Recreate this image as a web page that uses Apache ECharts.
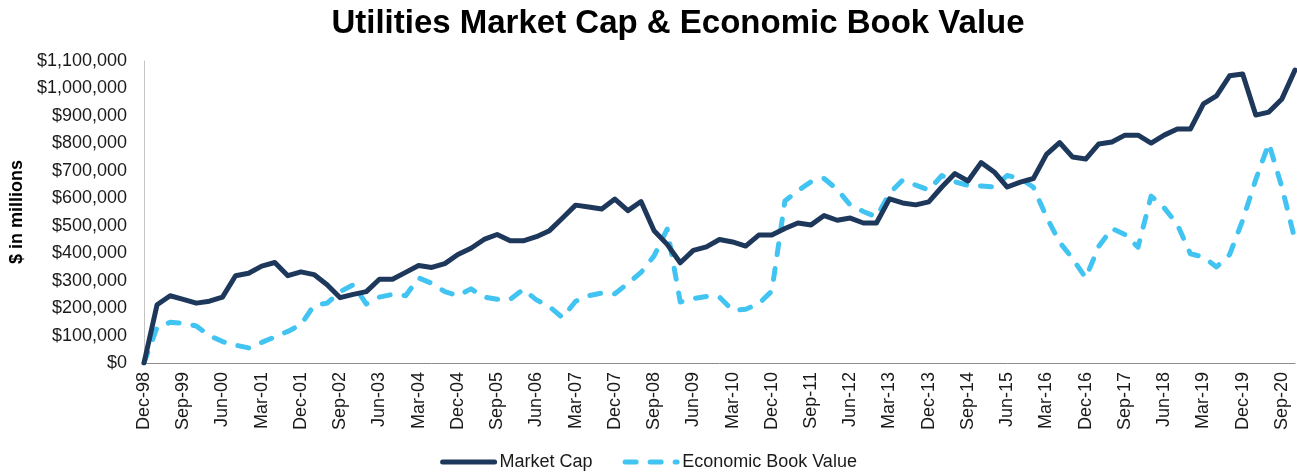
<!DOCTYPE html>
<html>
<head>
<meta charset="utf-8">
<title>Utilities Market Cap & Economic Book Value</title>
<script src="https://cdn.jsdelivr.net/npm/echarts@6/dist/echarts.min.js"></script>
<style>
  html, body { margin: 0; padding: 0; background: #fff; }
  #chart { width: 1297px; height: 472px; }
</style>
</head>
<body>
<div id="chart"></div>
<script>
// quarter ends, Dec-98 .. Dec-20
const quarters = [
  'Dec-98',
  'Mar-99', 'Jun-99', 'Sep-99', 'Dec-99',
  'Mar-00', 'Jun-00', 'Sep-00', 'Dec-00',
  'Mar-01', 'Jun-01', 'Sep-01', 'Dec-01',
  'Mar-02', 'Jun-02', 'Sep-02', 'Dec-02',
  'Mar-03', 'Jun-03', 'Sep-03', 'Dec-03',
  'Mar-04', 'Jun-04', 'Sep-04', 'Dec-04',
  'Mar-05', 'Jun-05', 'Sep-05', 'Dec-05',
  'Mar-06', 'Jun-06', 'Sep-06', 'Dec-06',
  'Mar-07', 'Jun-07', 'Sep-07', 'Dec-07',
  'Mar-08', 'Jun-08', 'Sep-08', 'Dec-08',
  'Mar-09', 'Jun-09', 'Sep-09', 'Dec-09',
  'Mar-10', 'Jun-10', 'Sep-10', 'Dec-10',
  'Mar-11', 'Jun-11', 'Sep-11', 'Dec-11',
  'Mar-12', 'Jun-12', 'Sep-12', 'Dec-12',
  'Mar-13', 'Jun-13', 'Sep-13', 'Dec-13',
  'Mar-14', 'Jun-14', 'Sep-14', 'Dec-14',
  'Mar-15', 'Jun-15', 'Sep-15', 'Dec-15',
  'Mar-16', 'Jun-16', 'Sep-16', 'Dec-16',
  'Mar-17', 'Jun-17', 'Sep-17', 'Dec-17',
  'Mar-18', 'Jun-18', 'Sep-18', 'Dec-18',
  'Mar-19', 'Jun-19', 'Sep-19', 'Dec-19',
  'Mar-20', 'Jun-20', 'Sep-20', 'Dec-20'
];

// $ millions
const marketCap = [
  0,
  212000, 245000, 232000, 218000,
  225000, 240000, 318000, 327000,
  353000, 366000, 318000, 332000,
  322000, 285000, 238000, 250000,
  260000, 305000, 305000, 330000,
  355000, 348000, 362000, 395000,
  418000, 450000, 468000, 445000,
  445000, 460000, 482000, 528000,
  575000, 568000, 561000, 597000,
  555000, 588000, 482000, 432000,
  365000, 410000, 423000, 450000,
  441000, 426000, 466000, 466000,
  490000, 510000, 503000, 537000,
  520000, 528000, 510000, 510000,
  598000, 583000, 576000, 587000,
  641000, 690000, 663000, 730000,
  696000, 641000, 659000, 672000,
  760000, 803000, 750000, 743000,
  798000, 805000, 830000, 830000,
  801000, 830000, 852000, 852000,
  944000, 973000, 1046000, 1053000,
  903000, 914000, 962000, 1067000
];

const economicBookValue = [
  0,
  130000, 148000, 145000, 135000,
  100000, 78000, 65000, 55000,
  75000, 95000, 115000, 140000,
  210000, 218000, 260000, 285000,
  215000, 240000, 250000, 245000,
  310000, 290000, 260000, 245000,
  270000, 240000, 232000, 232000,
  268000, 230000, 205000, 165000,
  225000, 245000, 255000, 252000,
  290000, 330000, 390000, 488000,
  222000, 235000, 242000, 240000,
  192000, 196000, 216000, 262000,
  590000, 628000, 660000, 672000,
  632000, 575000, 552000, 532000,
  618000, 666000, 648000, 630000,
  683000, 660000, 647000, 645000,
  641000, 683000, 672000, 640000,
  532000, 440000, 380000, 310000,
  425000, 490000, 468000, 422000,
  608000, 565000, 505000, 398000,
  386000, 350000, 395000, 520000,
  668000, 800000, 640000, 448000
];

const yTicks = { min: 0, max: 1100000, step: 100000 };

const navy = '#1e385c';
const sky = '#41c4f2';
const font = 'Arial, "Liberation Sans", sans-serif';

const chart = echarts.init(document.getElementById('chart'), null, { renderer: 'canvas' });

chart.setOption({
  animation: false,
  backgroundColor: '#fff',
  title: {
    text: 'Utilities Market Cap & Economic Book Value',
    left: 673,
    top: 2,
    textAlign: 'center',
    textStyle: { fontFamily: font, fontSize: 33, fontWeight: 'bold', color: '#000' }
  },
  legend: {
    left: 'center',
    top: 448,
    itemWidth: 52,
    itemHeight: 14,
    itemGap: 30,
    itemStyle: { opacity: 0 },
    lineStyle: { width: 5 },
    textStyle: { fontFamily: font, fontSize: 18, color: '#1a1a1a' },
    data: ['Market Cap', 'Economic Book Value']
  },
  grid: { left: 141, right: 2, top: 61, bottom: 109 },
  xAxis: {
    type: 'category',
    boundaryGap: false,
    data: quarters,
    axisLine: { lineStyle: { color: '#8c8c8c', width: 1 } },
    axisTick: { show: false },
    axisLabel: {
      interval: 2,
      rotate: 90,
      margin: 9,
      fontFamily: font,
      fontSize: 18,
      color: '#1a1a1a'
    },
    splitLine: { show: false }
  },
  yAxis: {
    type: 'value',
    min: yTicks.min,
    max: yTicks.max,
    interval: yTicks.step,
    name: '$ in millions',
    nameLocation: 'middle',
    nameRotate: 90,
    nameGap: 115,
    nameTextStyle: { fontFamily: font, fontSize: 18, fontWeight: 'bold', color: '#000' },
    axisLine: { show: true, lineStyle: { color: '#c4c4c4', width: 1 } },
    axisTick: { show: false },
    axisLabel: {
      margin: 17,
      fontFamily: font,
      fontSize: 18,
      color: '#1a1a1a',
      formatter: (v) => '$' + v.toLocaleString('en-US')
    },
    splitLine: { show: false }
  },
  series: [
    {
      name: 'Market Cap',
      type: 'line',
      data: marketCap,
      symbol: 'none',
      lineStyle: { color: navy, width: 5, join: 'round', cap: 'round' },
      itemStyle: { color: navy },
      z: 3
    },
    {
      name: 'Economic Book Value',
      type: 'line',
      data: economicBookValue,
      symbol: 'none',
      lineStyle: { color: sky, width: 5, type: [11, 14], cap: 'round', join: 'round' },
      itemStyle: { color: sky },
      z: 2
    }
  ]
});
</script>
</body>
</html>
